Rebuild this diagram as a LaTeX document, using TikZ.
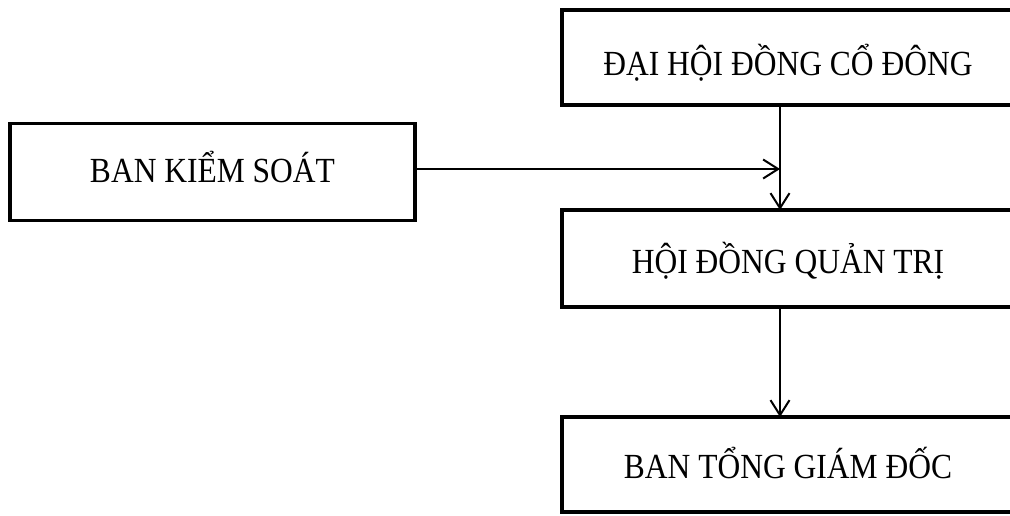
\documentclass[tikz,border=0pt]{standalone}
\usepackage{fontspec}
\setmainfont{Liberation Serif}
\usetikzlibrary{arrows.meta}
\newcommand{\lbl}[2]{\raisebox{#1}{\scalebox{1}[1.12]{#2}}}
\begin{document}
\begin{tikzpicture}[x=1pt,y=-1pt,
  box/.style={draw, line width=3.4pt, rectangle, outer sep=0pt, inner sep=0pt,
    text height=20pt, text depth=0pt,
    font=\fontsize{31.5}{36}\selectfont},
  arr/.style={line width=2pt, -{Straight Barb[length=15pt,width=19pt,line width=2pt]}}]
\useasboundingbox (0,0) rectangle (1010,515);
\clip (0,0) rectangle (1010,515);
\fill[white] (0,0) rectangle (1010,515);
\node[box, minimum width=452pt, minimum height=95pt] (dhd) at (788,57.5) {\lbl{-8pt}{ĐẠI HỘI ĐỒNG CỔ ĐÔNG}};
\node[box, minimum width=405pt, minimum height=97pt] (bks) at (212.5,172) {\lbl{0pt}{BAN KIỂM SOÁT}};
\node[box, minimum width=452pt, minimum height=97pt] (hdqt) at (788,258.5) {\lbl{-5pt}{HỘI ĐỒNG QUẢN TRỊ}};
\node[box, minimum width=452pt, minimum height=95pt] (btgd) at (788,464.5) {\lbl{-4pt}{BAN TỔNG GIÁM ĐỐC}};
\coordinate (a) at (780,0);
\draw[arr] (dhd.south -| a) -- (hdqt.north -| a);
\draw[arr] ([yshift=3pt]bks.east) -- ([yshift=3pt]bks.east -| a);
\draw[arr] (hdqt.south -| a) -- (btgd.north -| a);
\end{tikzpicture}
\end{document}
